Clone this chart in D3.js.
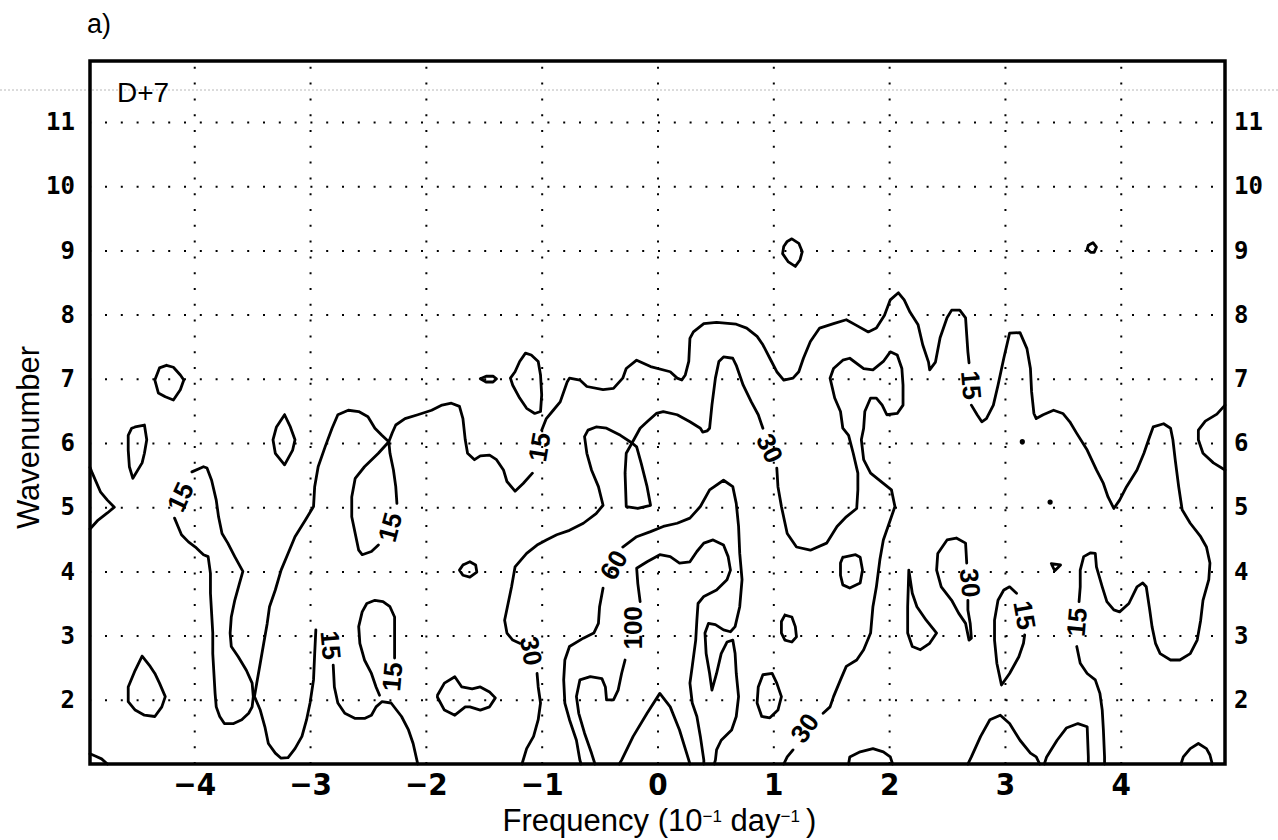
<!DOCTYPE html>
<html>
<head>
<meta charset="utf-8">
<script src="https://cdn.jsdelivr.net/npm/d3@7/dist/d3.min.js"></script>
<style>
  html, body { margin: 0; padding: 0; background: #fff; overflow: hidden; }
  svg { display: block; }
  .grid line { stroke: #000; stroke-width: 2; stroke-dasharray: 2 13.8; }
  .grid path { display: none; }
  .contour { fill: none; stroke: #000; stroke-width: 2.8; stroke-linejoin: round; stroke-linecap: round; }
  .frame { fill: none; stroke: #000; stroke-width: 3.5; }
  .xaxis text { font-family: "Liberation Sans Narrow", "DejaVu Sans Condensed", "Liberation Sans", sans-serif; font-weight: bold; font-size: 31px; fill: #000; }
  .yaxis text { font-family: "DejaVu Sans Mono", "Liberation Mono", monospace; font-weight: bold; font-size: 24px; fill: #000; }
  .axis path, .axis line { display: none; }
  .clabel { font-family: "Liberation Sans Narrow", "Liberation Sans", sans-serif; font-weight: bold; font-size: 26px; fill: #000; }
  .title { font-family: "Liberation Sans", Arial, sans-serif; fill: #000; }
</style>
</head>
<body>
<div id="chart"></div>
<script>
// frequency (10^-1 day^-1) on x, wavenumber on y
const xTickValues = [-4, -3, -2, -1, 0, 1, 2, 3, 4];
const yTickValues = [2, 3, 4, 5, 6, 7, 8, 9, 10, 11];
const xDomain = [-4.9, 4.9];
const yDomain = [1, 11.95];

// contour lines, [frequency, wavenumber]
const c15WestLoop = [[-4.24,7.21],[-4.18,7.18],[-4.12,7.06],[-4.09,6.98],[-4.12,6.83],[-4.18,6.67],[-4.25,6.72],[-4.31,6.78],[-4.34,6.98],[-4.30,7.17],[-4.24,7.21]];
const c15WestLoop2 = [[-4.51,6.25],[-4.43,6.28],[-4.41,6.05],[-4.43,5.84],[-4.45,5.69],[-4.53,5.45],[-4.56,5.63],[-4.57,5.89],[-4.57,6.12],[-4.54,6.23],[-4.51,6.25]];
const c15EdgeSpike = [[-4.9,5.62],[-4.88,5.53],[-4.81,5.24],[-4.75,5.11],[-4.69,5.0],[-4.75,4.91],[-4.83,4.8],[-4.9,4.66]];
const c15West = [[-4.02,5.55],[-3.92,5.63],[-3.89,5.61],[-3.85,5.42],[-3.81,5.11],[-3.79,4.85],[-3.76,4.59],[-3.71,4.44],[-3.65,4.23],[-3.58,4.00],[-3.61,3.81],[-3.65,3.55],[-3.68,3.29],[-3.69,3.04],[-3.68,2.83],[-3.62,2.67],[-3.55,2.46],[-3.50,2.26],[-3.49,2.05],[-3.50,1.89],[-3.53,1.79],[-3.59,1.69],[-3.66,1.63],[-3.74,1.63],[-3.78,1.74],[-3.81,1.89],[-3.82,2.10],[-3.83,2.41],[-3.84,2.72],[-3.84,3.04],[-3.85,3.35],[-3.86,3.66],[-3.86,3.97],[-3.88,4.23],[-3.92,4.26],[-3.95,4.31],[-3.99,4.38],[-4.05,4.46],[-4.11,4.57],[-4.14,4.70],[-4.17,4.83]];
const c15WestLow = [[-4.45,2.68],[-4.38,2.52],[-4.34,2.41],[-4.30,2.26],[-4.25,2.05],[-4.28,1.89],[-4.34,1.74],[-4.43,1.76],[-4.51,1.84],[-4.57,1.97],[-4.57,2.20],[-4.51,2.46],[-4.45,2.68]];
const c15MainA = [[-2.07,1.0],[-2.11,1.32],[-2.15,1.53],[-2.21,1.74],[-2.30,1.95],[-2.38,1.97],[-2.43,1.89],[-2.47,1.76],[-2.53,1.71],[-2.61,1.71],[-2.70,1.79],[-2.76,1.95],[-2.79,2.20],[-2.80,2.54]];
const c15MainB = [[-2.95,3.09],[-2.96,2.72],[-2.97,2.31],[-3.00,1.95],[-3.03,1.69],[-3.07,1.43],[-3.13,1.24],[-3.19,1.10],[-3.25,1.09],[-3.30,1.17],[-3.36,1.32],[-3.39,1.58],[-3.43,1.84],[-3.48,2.05],[-3.46,2.26],[-3.43,2.57],[-3.40,2.88],[-3.37,3.19],[-3.35,3.45],[-3.30,3.71],[-3.25,4.02],[-3.19,4.28],[-3.13,4.54],[-3.04,4.80],[-2.97,5.01],[-2.96,5.32],[-2.93,5.63],[-2.87,5.94],[-2.81,6.23],[-2.76,6.44],[-2.67,6.51],[-2.58,6.49],[-2.50,6.41],[-2.44,6.23],[-2.38,6.12],[-2.32,6.02],[-2.29,6.16],[-2.26,6.28],[-2.18,6.38],[-2.07,6.44],[-1.95,6.51],[-1.86,6.59],[-1.78,6.62],[-1.71,6.57],[-1.68,6.38],[-1.66,6.05],[-1.64,5.84],[-1.58,5.74],[-1.53,5.80],[-1.45,5.81],[-1.39,5.74],[-1.33,5.58],[-1.30,5.40],[-1.23,5.25],[-1.16,5.37],[-1.08,5.53]];
const c15MainC = [[-1.00,6.20],[-0.96,6.38],[-0.90,6.51],[-0.84,6.64],[-0.78,6.95],[-0.76,7.01],[-0.67,6.98],[-0.61,6.88],[-0.47,6.83],[-0.38,6.85],[-0.30,7.01],[-0.27,7.16],[-0.18,7.29],[-0.06,7.19],[0.11,7.11],[0.17,7.01],[0.21,6.98],[0.24,7.06],[0.27,7.27],[0.28,7.63],[0.31,7.73],[0.40,7.86],[0.51,7.88],[0.68,7.85],[0.77,7.79],[0.86,7.66],[0.91,7.53],[0.97,7.32],[1.03,7.11],[1.09,6.98],[1.17,7.01],[1.22,7.11],[1.26,7.32],[1.32,7.58],[1.40,7.79],[1.52,7.86],[1.63,7.92],[1.71,7.84],[1.82,7.73],[1.89,7.79],[1.96,7.99],[2.01,8.23],[2.08,8.34],[2.13,8.23],[2.18,8.04],[2.25,7.84],[2.29,7.53],[2.34,7.26],[2.35,7.14],[2.40,7.26],[2.44,7.64],[2.50,7.95],[2.54,8.07],[2.61,8.07],[2.66,7.95],[2.67,7.68],[2.68,7.42],[2.69,7.25]];
const c15MainD = [[2.71,6.59],[2.76,6.44],[2.80,6.33],[2.84,6.38],[2.90,6.59],[2.94,6.90],[2.99,7.32],[3.04,7.71],[3.13,7.72],[3.19,7.47],[3.22,7.16],[3.23,6.80],[3.25,6.46],[3.27,6.38],[3.33,6.44],[3.42,6.51],[3.50,6.46],[3.56,6.33],[3.62,6.15],[3.71,5.89],[3.79,5.58],[3.85,5.37],[3.89,5.16],[3.94,4.98],[3.99,5.11],[4.05,5.32],[4.14,5.58],[4.20,5.84],[4.25,6.10],[4.28,6.25],[4.37,6.30],[4.43,6.23],[4.45,6.05],[4.47,5.74],[4.50,5.32],[4.53,4.96],[4.60,4.75],[4.69,4.54],[4.74,4.38],[4.77,4.13],[4.76,3.87],[4.71,3.55],[4.69,3.24],[4.66,2.93],[4.60,2.72],[4.51,2.62],[4.43,2.62],[4.34,2.72],[4.30,2.88],[4.27,3.14],[4.25,3.40],[4.22,3.76],[4.19,3.82],[4.14,3.76],[4.07,3.50],[3.99,3.37],[3.94,3.40],[3.88,3.53],[3.84,3.76],[3.79,4.07],[3.78,4.28],[3.74,4.29],[3.68,4.23],[3.65,4.02],[3.65,3.76],[3.64,3.53]];
const c15MainE = [[3.62,2.83],[3.65,2.57],[3.71,2.41],[3.78,2.31],[3.82,2.10],[3.84,1.84],[3.85,1.53],[3.86,1.11],[3.86,1.0]];
const c15SaddleLoop = [[-2.41,4.41],[-2.47,4.31],[-2.55,4.26],[-2.58,4.33],[-2.61,4.59],[-2.64,4.85],[-2.64,5.16],[-2.61,5.45],[-2.53,5.63],[-2.41,5.84],[-2.32,6.02],[-2.31,5.84],[-2.28,5.58],[-2.26,5.32],[-2.25,5.06]];
const c15LowLoop = [[-2.27,2.65],[-2.27,3.04],[-2.27,3.29],[-2.31,3.45],[-2.37,3.53],[-2.44,3.55],[-2.51,3.50],[-2.55,3.37],[-2.58,3.14],[-2.57,2.88],[-2.53,2.62],[-2.47,2.41],[-2.43,2.20],[-2.40,2.07]];
const c15Islet = [[-3.22,6.44],[-3.17,6.25],[-3.13,6.05],[-3.15,5.89],[-3.22,5.66],[-3.30,5.84],[-3.32,6.05],[-3.29,6.25],[-3.22,6.44]];
const c15NorthLoop = [[-1.27,7.01],[-1.23,7.11],[-1.19,7.27],[-1.14,7.40],[-1.09,7.37],[-1.03,7.27],[-1.01,7.06],[-1.00,6.75],[-1.01,6.49],[-1.06,6.46],[-1.13,6.54],[-1.19,6.70],[-1.25,6.90],[-1.27,7.01]];
const c15Speck = [[-1.53,7.0],[-1.48,7.04],[-1.42,7.04],[-1.39,7.0],[-1.42,6.95],[-1.48,6.95],[-1.53,7.0]];
const c15Nine = [[1.12,9.14],[1.16,9.18],[1.22,9.11],[1.25,8.98],[1.23,8.85],[1.19,8.75],[1.13,8.82],[1.08,8.95],[1.09,9.06],[1.12,9.14]];
const c15NineEast = [[3.72,9.08],[3.76,9.12],[3.79,9.05],[3.77,8.97],[3.74,8.97],[3.71,9.02],[3.72,9.08]];
const c30MainA = [[-1.17,1.0],[-1.13,1.24],[-1.07,1.43],[-1.03,1.69],[-1.01,1.95],[-1.03,2.20],[-1.04,2.41]];
const c30MainB = [[-1.19,2.88],[-1.25,2.93],[-1.30,3.04],[-1.32,3.24],[-1.29,3.50],[-1.26,3.76],[-1.23,4.07],[-1.13,4.28],[-1.04,4.41],[-0.96,4.49],[-0.87,4.57],[-0.76,4.64],[-0.64,4.75],[-0.53,4.90],[-0.47,5.03],[-0.51,5.32],[-0.57,5.58],[-0.61,5.84],[-0.63,6.10],[-0.60,6.20],[-0.53,6.25],[-0.44,6.23],[-0.32,6.12],[-0.22,6.00],[-0.15,6.23],[-0.09,6.33],[-0.01,6.46],[0.05,6.49],[0.17,6.44],[0.28,6.33],[0.37,6.23],[0.39,6.17],[0.43,6.19],[0.45,6.23],[0.47,6.59],[0.50,7.01],[0.53,7.27],[0.57,7.34],[0.65,7.32],[0.68,7.21],[0.74,6.90],[0.81,6.64],[0.87,6.44],[0.91,6.23]];
const c30MainC = [[1.03,5.61],[1.04,5.32],[1.07,5.01],[1.12,4.59],[1.20,4.38],[1.32,4.33],[1.46,4.44],[1.55,4.70],[1.63,4.85],[1.72,4.98],[1.73,5.27],[1.73,5.53],[1.69,5.84],[1.65,6.12],[1.60,6.23],[1.58,6.49],[1.53,6.70],[1.49,7.01],[1.52,7.16],[1.60,7.29],[1.66,7.32],[1.78,7.16],[1.86,7.14],[1.95,7.27],[2.01,7.42],[2.07,7.37],[2.11,7.16],[2.12,6.90],[2.12,6.59],[2.07,6.46],[1.98,6.44],[1.94,6.59],[1.89,6.70],[1.84,6.70],[1.79,6.49],[1.78,6.23],[1.76,6.05],[1.78,5.74],[1.84,5.53],[1.95,5.37],[2.02,5.27],[2.05,5.01],[2.01,4.80],[1.95,4.49],[1.92,4.18],[1.89,3.76],[1.86,3.45],[1.84,3.04],[1.78,2.78],[1.72,2.62],[1.63,2.52],[1.58,2.31],[1.52,2.05],[1.49,1.89],[1.43,1.79]];
const c30MainD = [[1.17,1.22],[1.12,1.11],[1.09,1.0]];
const c30Vee = [[-0.22,6.0],[-0.27,5.84],[-0.28,5.53],[-0.27,5.01],[-0.17,4.98],[-0.06,5.03],[-0.09,5.32],[-0.14,5.68],[-0.18,5.94],[-0.22,6.0]];
const c30EastLoop = [[2.67,4.13],[2.66,4.44],[2.58,4.52],[2.50,4.49],[2.42,4.28],[2.41,4.02],[2.45,3.76],[2.54,3.55],[2.60,3.35],[2.66,3.19],[2.69,2.93],[2.71,2.96],[2.70,3.19],[2.68,3.40],[2.68,3.55]];
const c60A = [[-0.30,4.38],[-0.18,4.54],[-0.06,4.62],[0.05,4.70],[0.17,4.75],[0.28,4.83],[0.37,5.01],[0.45,5.27],[0.57,5.42],[0.65,5.32],[0.68,5.06],[0.70,4.70],[0.71,4.28],[0.73,3.87],[0.71,3.45],[0.67,3.14],[0.63,3.06],[0.57,3.09],[0.50,3.17],[0.44,3.19],[0.41,3.04],[0.42,2.72],[0.45,2.41],[0.47,2.15],[0.51,2.41],[0.55,2.72],[0.60,2.90],[0.65,2.93],[0.67,2.72],[0.68,2.41],[0.70,2.05],[0.68,1.74],[0.64,1.53],[0.55,1.37],[0.51,1.22],[0.50,1.06],[0.49,1.0]];
const c60B = [[-0.47,3.74],[-0.50,3.45],[-0.51,3.19],[-0.55,3.04],[-0.64,2.96],[-0.76,2.83],[-0.80,2.62],[-0.81,2.31],[-0.80,1.95],[-0.76,1.69],[-0.70,1.37],[-0.67,1.06],[-0.66,1.0]];
const c100A = [[-0.15,3.53],[-0.17,3.81],[-0.18,4.05],[-0.09,4.15],[0.02,4.26],[0.11,4.23],[0.19,4.13],[0.28,4.15],[0.34,4.31],[0.40,4.44],[0.48,4.49],[0.57,4.41],[0.61,4.23],[0.63,4.02],[0.60,3.87],[0.51,3.71],[0.40,3.61],[0.35,3.50],[0.34,3.24],[0.33,2.93],[0.30,2.52],[0.28,2.26],[0.30,1.95],[0.34,1.74],[0.37,1.43],[0.40,1.06],[0.40,1.0]];
const c100B = [[-0.28,2.62],[-0.31,2.41],[-0.34,2.15],[-0.38,2.00],[-0.44,2.00],[-0.45,2.20],[-0.48,2.33],[-0.58,2.36],[-0.67,2.31],[-0.70,2.05],[-0.68,1.79],[-0.63,1.48],[-0.57,1.17],[-0.54,1.0]];
const c100Spike = [[-0.33,1.0],[-0.31,1.06],[-0.21,1.43],[-0.09,1.79],[0.02,2.10],[0.11,1.89],[0.19,1.53],[0.27,1.06],[0.28,1.0]];
const cIsletA = [[1.60,4.22],[1.71,4.26],[1.75,4.22],[1.77,4.02],[1.75,3.82],[1.66,3.74],[1.60,3.79],[1.58,3.94],[1.58,4.13],[1.60,4.22]];
const cIsletB = [[1.10,3.32],[1.16,3.29],[1.19,3.14],[1.20,2.98],[1.16,2.90],[1.10,2.93],[1.07,3.04],[1.07,3.22],[1.10,3.32]];
const cIsletC = [[0.91,2.39],[0.99,2.41],[1.03,2.26],[1.07,2.05],[1.04,1.84],[0.97,1.72],[0.90,1.74],[0.86,1.95],[0.87,2.20],[0.91,2.39]];
const cIsletD = [[-1.90,2.07],[-1.84,2.26],[-1.75,2.36],[-1.69,2.20],[-1.60,2.17],[-1.53,2.20],[-1.45,2.12],[-1.40,2.03],[-1.45,1.89],[-1.53,1.84],[-1.62,1.89],[-1.66,1.89],[-1.75,1.76],[-1.84,1.84],[-1.90,2.04],[-1.90,2.07]];
const cIsletE = [[-1.68,4.10],[-1.62,4.15],[-1.57,4.10],[-1.56,3.99],[-1.62,3.91],[-1.68,3.94],[-1.71,4.02],[-1.68,4.10]];
const cWedge = [[2.17,4.02],[2.20,3.66],[2.24,3.45],[2.32,3.24],[2.41,3.04],[2.35,2.88],[2.27,2.78],[2.20,2.83],[2.16,3.04],[2.16,3.45],[2.17,4.02]];
const c15EastLoop = [[3.10,3.66],[3.04,3.76],[2.99,3.71],[2.94,3.55],[2.91,3.24],[2.91,2.93],[2.93,2.57],[2.97,2.23],[3.04,2.41],[3.12,2.67],[3.16,2.88],[3.17,3.01]];
const cEdgeEast = [[4.9,6.59],[4.83,6.45],[4.73,6.34],[4.67,6.20],[4.67,6.05],[4.71,5.84],[4.80,5.69],[4.9,5.58]];
const cFloorA = [[1.65,1.0],[1.66,1.11],[1.75,1.19],[1.86,1.24],[1.95,1.19],[2.01,1.11],[2.03,1.0]];
const cFloorB = [[2.68,1.0],[2.71,1.11],[2.79,1.43],[2.87,1.69],[2.96,1.76],[3.04,1.63],[3.13,1.37],[3.22,1.17],[3.27,1.11],[3.30,1.0]];
const cFloorC = [[3.34,1.0],[3.36,1.11],[3.45,1.37],[3.53,1.56],[3.63,1.63],[3.71,1.58],[3.72,1.11],[3.72,1.0]];
const cFloorD = [[4.52,1.0],[4.54,1.11],[4.60,1.24],[4.67,1.32],[4.74,1.24],[4.77,1.14],[4.79,1.0]];
const cCorner = [[-4.9,1.16],[-4.85,1.12],[-4.80,1.08],[-4.75,1.0]];
const cTick = [[3.40,4.12],[3.48,4.10],[3.43,4.01],[3.40,4.12]];
const spots = [[3.39,5.08],[3.15,6.02]];

const contourLines = [
  c15WestLoop, c15WestLoop2, c15EdgeSpike, c15West, c15WestLow,
  c15MainA, c15MainB, c15MainC, c15MainD, c15MainE,
  c15SaddleLoop, c15LowLoop, c15Islet, c15NorthLoop, c15Speck, c15Nine, c15NineEast,
  c30MainA, c30MainB, c30MainC, c30MainD, c30Vee, c30EastLoop,
  c60A, c60B, c100A, c100B, c100Spike,
  cIsletA, cIsletB, cIsletC, cIsletD, cIsletE, cWedge, c15EastLoop,
  cEdgeEast, cFloorA, cFloorB, cFloorC, cFloorD, cCorner, cTick
];

// contour labels: value and where it sits
const labelValues = ["15", "15", "15", "15", "15", "30", "60", "100", "30", "30", "15", "30", "15", "15"];
const labelFreq   = [-4.12, -2.82, -2.31, -2.29, -1.02, -1.09, -0.38, -0.21, 0.97, 1.27, 2.71, 2.70, 3.17, 3.62];
const labelWave   = [5.16, 2.85, 4.69, 2.36, 5.94, 2.76, 4.10, 3.12, 5.92, 1.56, 6.90, 3.82, 3.32, 3.21];
const labelAngle  = [-65, 85, -75, -85, -80, 80, -60, -90, 65, -55, 85, 85, 80, -85];

const width = 1278;
const height = 840;
const margin = { top: 61, right: 53, bottom: 76, left: 90 };
const innerWidth = width - margin.left - margin.right;
const innerHeight = height - margin.top - margin.bottom;

const svg = d3.select("#chart")
  .append("svg")
  .attr("width", width)
  .attr("height", height)
  .attr("viewBox", `0 0 ${width} ${height}`);

// faint scan line across the page
svg.append("line")
  .attr("x1", 0).attr("x2", width)
  .attr("y1", 90).attr("y2", 90)
  .attr("stroke", "#b8b8b8")
  .attr("stroke-width", 1)
  .attr("stroke-dasharray", "2 2");

const g = svg.append("g").attr("transform", `translate(${margin.left},${margin.top})`);

const x = d3.scaleLinear().domain(xDomain).range([0, innerWidth]);
const y = d3.scaleLinear().domain(yDomain).range([innerHeight, 0]);

// dotted grid (axis ticks only, no text)
const gridY = g.append("g")
  .attr("class", "grid")
  .call(d3.axisLeft(y).tickValues(yTickValues).tickSize(-innerWidth).tickFormat(""));
gridY.selectAll("line").attr("stroke-dashoffset", -15);
gridY.selectAll("text").remove();

const gridX = g.append("g")
  .attr("class", "grid")
  .attr("transform", `translate(0,${innerHeight})`)
  .call(d3.axisBottom(x).tickValues(xTickValues).tickSize(-innerHeight).tickFormat(""));
gridX.selectAll("text").remove();

const line = d3.line()
  .x((d) => x(d[0]))
  .y((d) => y(d[1]));

g.append("g")
  .selectAll("path")
  .data(contourLines)
  .join("path")
  .attr("class", "contour")
  .attr("d", line);

g.append("g")
  .selectAll("circle")
  .data(spots)
  .join("circle")
  .attr("cx", (d) => x(d[0]))
  .attr("cy", (d) => y(d[1]))
  .attr("r", 2.6)
  .attr("fill", "#000");

g.append("g")
  .selectAll("text")
  .data(labelValues)
  .join("text")
  .attr("class", "clabel")
  .attr("text-anchor", "middle")
  .attr("dy", "0.35em")
  .attr("transform", (d, i) => `translate(${x(labelFreq[i])},${y(labelWave[i])}) rotate(${labelAngle[i]})`)
  .text((d) => d);

g.append("rect")
  .attr("class", "frame")
  .attr("x", 0)
  .attr("y", 0)
  .attr("width", innerWidth)
  .attr("height", innerHeight);

// axes
const fmtX = (d) => (d < 0 ? "\u2212" + Math.abs(d) : String(d));

g.append("g")
  .attr("class", "axis xaxis")
  .attr("transform", `translate(0,${innerHeight})`)
  .call(d3.axisBottom(x).tickValues(xTickValues).tickSize(0).tickPadding(9).tickFormat(fmtX));

g.append("g")
  .attr("class", "axis yaxis")
  .call(d3.axisLeft(y).tickValues(yTickValues).tickSize(0).tickPadding(15).tickFormat(d3.format("d")));

g.append("g")
  .attr("class", "axis yaxis")
  .attr("transform", `translate(${innerWidth},0)`)
  .call(d3.axisRight(y).tickValues(yTickValues).tickSize(0).tickPadding(9).tickFormat(d3.format("d")));

// titles
const xTitle = g.append("text")
  .attr("class", "title")
  .attr("x", innerWidth / 2 + 2)
  .attr("y", innerHeight + 67)
  .attr("text-anchor", "middle")
  .attr("font-size", 31);
xTitle.append("tspan").text("Frequency (10");
xTitle.append("tspan").attr("baseline-shift", "super").attr("font-size", 17).text("\u22121");
xTitle.append("tspan").text(" day");
xTitle.append("tspan").attr("baseline-shift", "super").attr("font-size", 17).text("\u22121");
xTitle.append("tspan").text("\u2009)");

g.append("text")
  .attr("class", "title")
  .attr("transform", `translate(${-margin.left + 39},${innerHeight / 2 + 25}) rotate(-90)`)
  .attr("text-anchor", "middle")
  .attr("font-size", 31)
  .text("Wavenumber");

g.append("text")
  .attr("class", "title")
  .attr("x", 27)
  .attr("y", 41)
  .attr("font-size", 28)
  .text("D+7");

svg.append("text")
  .attr("class", "title")
  .attr("x", 87)
  .attr("y", 33)
  .attr("font-size", 27)
  .text("a)");
</script>
</body>
</html>
